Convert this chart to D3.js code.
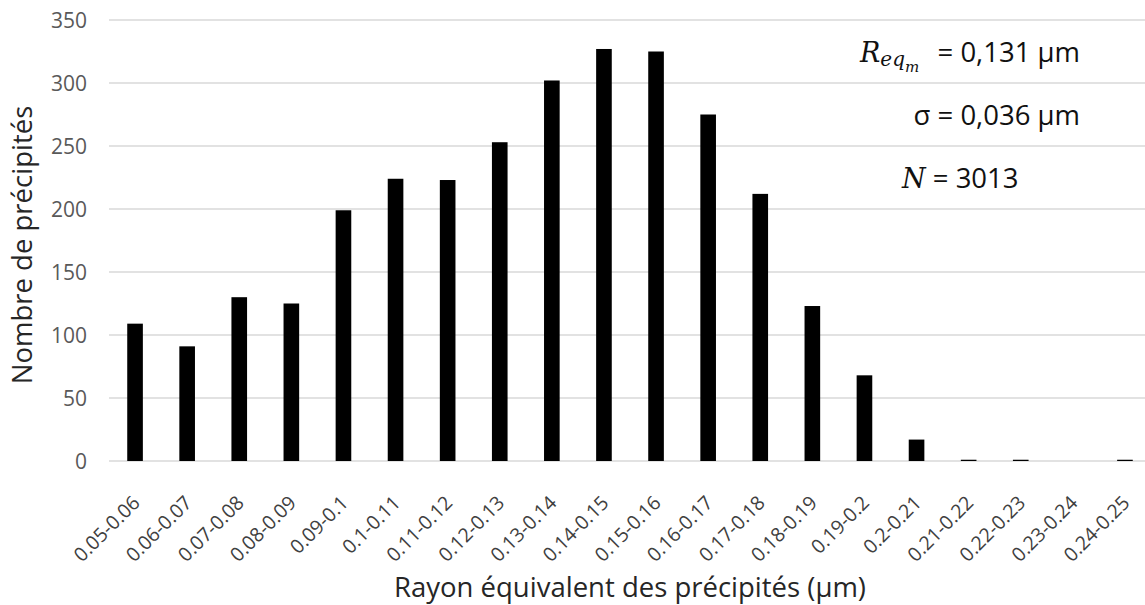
<!DOCTYPE html>
<html>
<head>
<meta charset="utf-8">
<script src="https://cdn.jsdelivr.net/npm/d3@7"></script>
<style>
  html, body { margin: 0; padding: 0; background: #fff; }
  svg { display: block; }
  text { font-family: "Open Sans", "Noto Sans", sans-serif; }
</style>
</head>
<body>
<svg id="chart" width="1145" height="605"></svg>
<script>
const categories = ["0.05-0.06","0.06-0.07","0.07-0.08","0.08-0.09","0.09-0.1","0.1-0.11","0.11-0.12","0.12-0.13","0.13-0.14","0.14-0.15","0.15-0.16","0.16-0.17","0.17-0.18","0.18-0.19","0.19-0.2","0.2-0.21","0.21-0.22","0.22-0.23","0.23-0.24","0.24-0.25"];
const counts = [109, 91, 130, 125, 199, 224, 223, 253, 302, 327, 325, 275, 212, 123, 68, 17, 1, 1, 0, 1];
const yTicks = [0, 50, 100, 150, 200, 250, 300, 350];
const yTitle = "Nombre de précipités";
const xTitle = "Rayon équivalent des précipités (µm)";
const statLines = [
  { label: "R", sub: "eq", subsub: "m", value: "= 0,131 µm" },
  { label: "σ", value: "σ = 0,036 µm" },
  { label: "N", value: " = 3013" }
];

(function () {
const svg = d3.select("#chart");
const pLeft = 109, pRight = 1151, pTop = 20, pBottom = 461;

const x = d3.scaleBand().domain(categories).range([pLeft, pRight]).paddingInner(0.7).paddingOuter(0.35);
const y = d3.scaleLinear().domain([0, 350]).range([pBottom, pTop]);

// gridlines
svg.append("g").selectAll("line").data(yTicks).join("line")
  .attr("x1", pLeft).attr("x2", pRight)
  .attr("y1", d => y(d)).attr("y2", d => y(d))
  .attr("stroke", "#d9d9d9").attr("stroke-width", 1.3);

// y axis labels
svg.append("g").selectAll("text").data(yTicks).join("text")
  .attr("x", 87).attr("y", d => y(d)).attr("dy", "0.36em")
  .attr("text-anchor", "end").attr("font-size", 21).attr("fill", "#595959")
  .text(d => d);

// bars
svg.append("g").selectAll("rect").data(categories).join("rect")
  .attr("x", d => x(d)).attr("width", x.bandwidth())
  .attr("y", (d, i) => y(counts[i]))
  .attr("height", (d, i) => Math.max(0, y(0) - y(counts[i])))
  .attr("fill", "#000");

// x labels
svg.append("g").selectAll("text").data(categories).join("text")
  .attr("text-anchor", "end").attr("font-size", 19.5).attr("fill", "#404040")
  .attr("transform", d => `translate(${x(d) + x.bandwidth() / 2 + 6},${pBottom + 43}) rotate(-45)`)
  .text(d => d);

// axis titles
svg.append("text").attr("x", 630).attr("y", 597).attr("text-anchor", "middle")
  .attr("font-size", 27.5).attr("fill", "#262626").text(xTitle);
svg.append("text").attr("transform", "translate(32,245) rotate(-90)").attr("text-anchor", "middle")
  .attr("font-size", 27.5).attr("fill", "#262626").text(yTitle);

// stats annotation
const stats = svg.append("g").attr("font-size", 27.5).attr("fill", "#111");
const mathFont = "'DejaVu Serif', 'Liberation Serif', serif";
const t1m = stats.append("text").attr("x", 860).attr("y", 62);
t1m.append("tspan").attr("font-family", mathFont).attr("font-style", "italic").attr("font-size", 27).text(statLines[0].label);
t1m.append("tspan").attr("font-family", mathFont).attr("font-style", "italic").attr("font-size", 20).attr("dy", 4).text(statLines[0].sub);
t1m.append("tspan").attr("font-family", mathFont).attr("font-style", "italic").attr("font-size", 15).attr("dy", 6).text(statLines[0].subsub);
stats.append("text").attr("x", 1080).attr("y", 62).attr("text-anchor", "end").text(statLines[0].value);
stats.append("text").attr("x", 1080).attr("y", 125).attr("text-anchor", "end").text(statLines[1].value);
const t3 = stats.append("text").attr("x", 902).attr("y", 188);
t3.append("tspan").attr("font-family", mathFont).attr("font-style", "italic").attr("font-size", 27).text(statLines[2].label);
t3.append("tspan").text(statLines[2].value);
})();
</script>
</body>
</html>
